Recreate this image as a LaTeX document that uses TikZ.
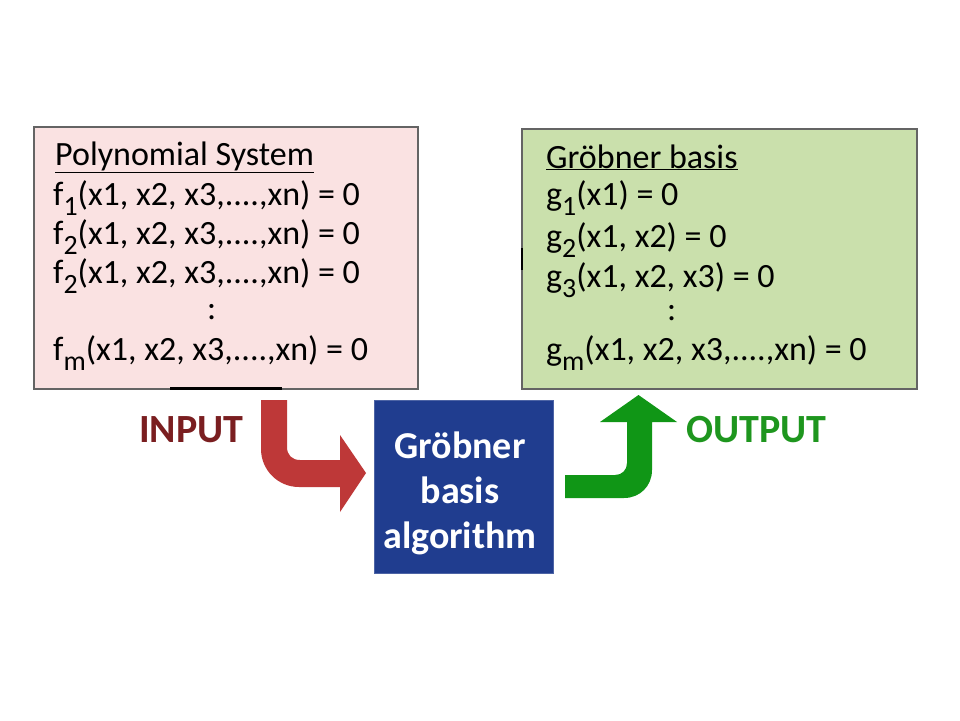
\documentclass[tikz,border=0pt]{standalone}
\usepackage{fontspec}
\setmainfont{Carlito}
\usepackage{graphicx}
\newcommand\dn[1]{\raisebox{-0.3em}{\scalebox{0.82}{#1}}}
\definecolor{pinkfill}{RGB}{250,226,226}
\definecolor{greenfill}{RGB}{202,224,172}
\definecolor{boxgray}{RGB}{100,100,100}
\definecolor{bluebox}{RGB}{32,61,143}
\definecolor{redarrow}{RGB}{190,56,56}
\definecolor{greenarrow}{RGB}{16,150,22}
\definecolor{inputred}{RGB}{122,30,32}
\definecolor{outputgreen}{RGB}{30,150,30}
\tikzset{
  panel/.style={draw=boxgray, line width=1.2pt, minimum width=#1, inner sep=0},
  line/.style={anchor=base west, inner sep=0, font=\fontsize{34}{40}\selectfont},
  label/.style={anchor=base west, inner sep=0, font=\fontsize{40}{48}\selectfont\bfseries},
}
\begin{document}
\begin{tikzpicture}[x=1pt,y=-1pt]
\useasboundingbox[fill=white] (0,0) rectangle (960,720);
% boxes
\node[panel=384pt, minimum height=262pt, fill=pinkfill] (sys) at (226,258) {};
\node[panel=395pt, minimum height=260pt, fill=greenfill] (gb) at (719.5,259) {};
\node[draw=bluebox!80!white, line width=0.8pt, fill=bluebox, minimum width=179pt, minimum height=173pt, inner sep=0] (alg) at (463.5,486.5) {};
% small artifacts
\draw[line width=2.5pt, black] (170,388.5) -- (282,388.5);
\draw[line width=2pt, black] (521.5,248) -- (521.5,270);
% left text
\node[line] (p0) at (55,165) {\underline{Polynomial System}};
\node[line] (p1) at (53,205) {f\dn{1}(x1, x2, x3,....,xn) = 0};
\node[line] (p2) at (53,244) {f\dn{2}(x1, x2, x3,....,xn) = 0};
\node[line] (p3) at (53,283) {f\dn{2}(x1, x2, x3,....,xn) = 0};
\node[line] (p4) at (207,319) {:};
\node[line] (p5) at (53,360) {f\dn{m}(x1, x2, x3,....,xn) = 0};
% right text
\node[line] (g0) at (546,168) {\underline{Gröbner basis}};
\node[line] (g1) at (546,205) {g\dn{1}(x1) = 0};
\node[line] (g2) at (546,247) {g\dn{2}(x1, x2) = 0};
\node[line] (g3) at (546,287) {g\dn{3}(x1, x2, x3) = 0};
\node[line] (g4) at (667,320) {:};
\node[line] (g5) at (546,360) {g\dn{m}(x1, x2, x3,....,xn) = 0};
% algorithm text
\node[align=center, text=white, font=\fontsize{38}{45}\selectfont\bfseries, inner sep=0] (algt) at (460,493) {Gröbner\\basis\\algorithm};
% labels
\node[label, text=inputred] (in) at (139,442) {INPUT};
\node[label, text=outputgreen] (out) at (686,442) {OUTPUT};
% red arrow
\fill[redarrow] (261,400) -- (287,400) -- (287,447) .. controls (287,455) and (292,460) .. (300,460)
  -- (340,460) -- (340,435) -- (366,473) -- (340,512) -- (340,487) -- (299,487)
  .. controls (278,487) and (261,470) .. (261,449) -- cycle;
% green arrow
\fill[greenarrow] (565,475) -- (615,475) .. controls (622,475) and (627,470) .. (627,463)
  -- (627,422) -- (600,422) -- (638.5,395) -- (677,422) -- (652,422) -- (652,470)
  .. controls (652,486) and (640,498) .. (624,498) -- (565,498) -- cycle;
\end{tikzpicture}
\end{document}
